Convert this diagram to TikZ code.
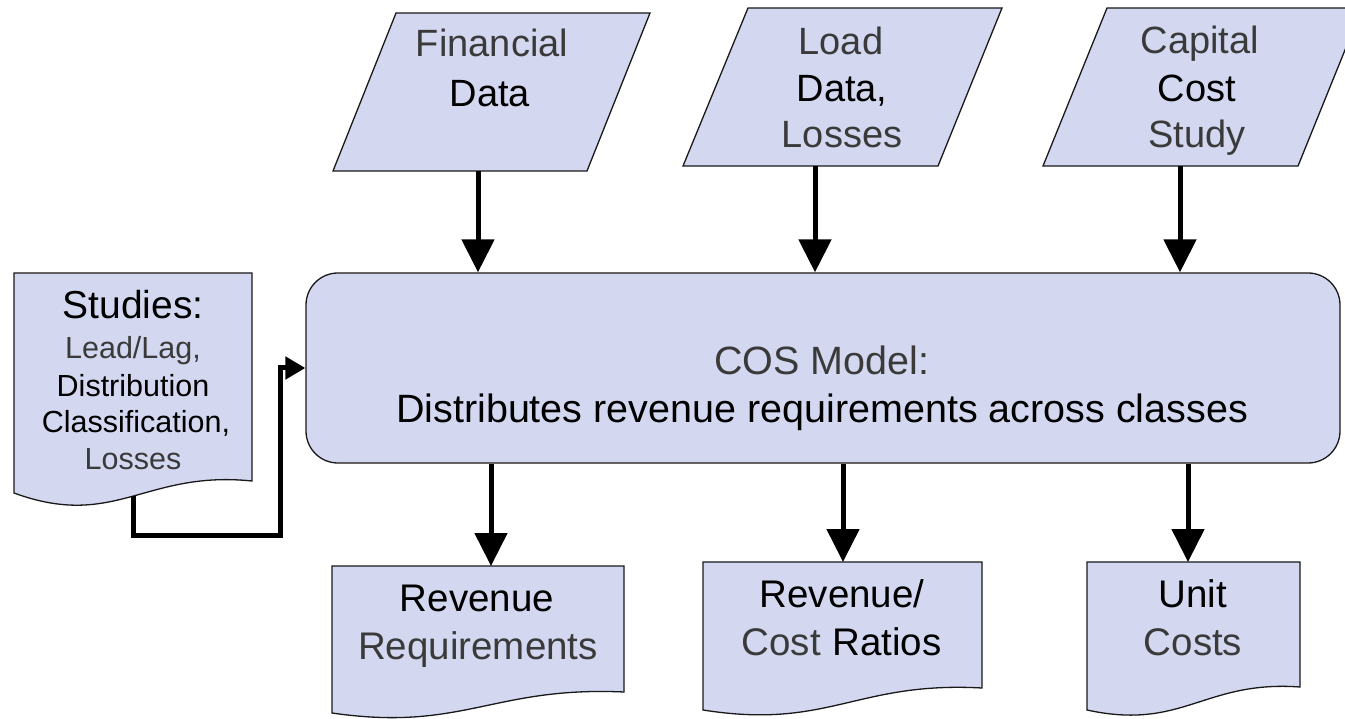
\documentclass[tikz,border=0pt]{standalone}
\usepackage{fontspec}
\setmainfont{Liberation Sans}
\usetikzlibrary{arrows.meta}
\definecolor{boxfill}{RGB}{211,216,240}
\definecolor{txtgray}{RGB}{58,58,58}
\definecolor{edgecol}{RGB}{25,25,25}
\begin{document}
\begin{tikzpicture}[x=1pt,y=-1pt,
  shapeline/.style={draw=edgecol,fill=boxfill,line width=1.3pt},
  big/.style={font=\fontsize{38}{44}\selectfont,inner sep=0pt,anchor=base},
  docfont/.style={font=\fontsize{38.5}{44}\selectfont,inner sep=0pt,anchor=base},
  mainfont/.style={font=\fontsize{39.5}{46}\selectfont,inner sep=0pt,anchor=base},
  small/.style={font=\fontsize{30.5}{36}\selectfont,inner sep=0pt,anchor=base},
  gr/.style={text=txtgray}, bk/.style={text=black},
  flow/.style={line width=5pt,-{Triangle[length=33pt,width=32pt]}},
  flowsmall/.style={line width=5pt,-{Triangle[length=20pt,width=22pt]}}]
\clip (0,0) rectangle (1345,719);
\fill[white] (0,0) rectangle (1345,719);

% input parallelograms
\draw[shapeline] (396,13) -- (650,13) -- (587,171) -- (333,171) -- cycle;
\draw[shapeline] (748,8) -- (1002,8) -- (938,166) -- (683,166) -- cycle;
\draw[shapeline] (1107,8) -- (1362,8) -- (1298,166) -- (1043,166) -- cycle;

% main process
\node[shapeline, rounded corners=32pt, minimum width=1034pt, minimum height=190pt, inner sep=0pt] (cos) at (823,368) {};

% documents
\draw[shapeline] (14,273) -- (252,273) -- (252,481) .. controls (145,470) and (115,530) .. (14,493) -- cycle;
\draw[shapeline] (332,566) -- (624,566) -- (624,692) .. controls (493,686) and (463,732) .. (332,713) -- cycle;
\draw[shapeline] (703,562) -- (982,562) -- (982,688) .. controls (856,681) and (829,730) .. (703,710) -- cycle;
\draw[shapeline] (1087,562) -- (1300,562) -- (1300,687) .. controls (1204,680) and (1183,731) .. (1087,710) -- cycle;

% connector anchors
\coordinate (finout) at (478,171);
\coordinate (loadout) at (815,166);
\coordinate (capout) at (1180,166);
\coordinate (rrin) at (491,566);
\coordinate (rcrin) at (843,562);
\coordinate (ucin) at (1188,562);
\coordinate (stout) at (133,496);
\coordinate (stbend) at (280,535);

\draw[flow] (finout) -- (finout |- cos.north);
\draw[flow] (loadout) -- (loadout |- cos.north);
\draw[flow] (capout) -- (capout |- cos.north);
\draw[flow] (cos.south -| rrin) -- (rrin);
\draw[flow] (cos.south -| rcrin) -- (rcrin);
\draw[flow] (cos.south -| ucin) -- (ucin);
\draw[flowsmall] (stout) |- (stbend) |- (cos.west);

% texts
\node[big,gr] (t1a) at (492,57) {Financial};
\node[big,bk] (t1b) at (490,107) {Data};
\node[big,gr] (t2a) at (841,55) {Load};
\node[big,bk] (t2b) at (842,102) {Data,};
\node[big,gr] (t2c) at (842,148) {Losses};
\node[big,gr] (t3a) at (1200,54) {Capital};
\node[big,bk] (t3b) at (1197,102) {Cost};
\node[big,gr] (t3c) at (1197,148) {Study};
\node[mainfont,gr] (tma) at (822,375) {COS Model:};
\node[mainfont,bk] (tmb) at (822,423) {Distributes revenue requirements across classes};
\node[font=\fontsize{39}{44}\selectfont,inner sep=0pt,anchor=base,bk] (tsa) at (133,319) {Studies:};
\node[small,gr] (tsb) at (133,359) {Lead/Lag,};
\node[small,bk] (tsc) at (133,396) {Distribution};
\node[small,bk] (tsd) at (136,432) {Classification,};
\node[small,gr] (tse) at (133,469) {Losses};
\node[docfont,bk] (tra) at (477,611) {Revenue};
\node[docfont,gr] (trb) at (478,659) {Requirements};
\node[docfont,bk] (tca) at (842,607) {Revenue/};
\node[docfont,gr,anchor=base east] (tcb) at (821,655) {Cost};
\node[docfont,bk,anchor=base west] (tcc) at (832,655) {Ratios};
\node[docfont,bk] (tua) at (1193,607) {Unit};
\node[docfont,gr] (tub) at (1193,655) {Costs};
\end{tikzpicture}
\end{document}
